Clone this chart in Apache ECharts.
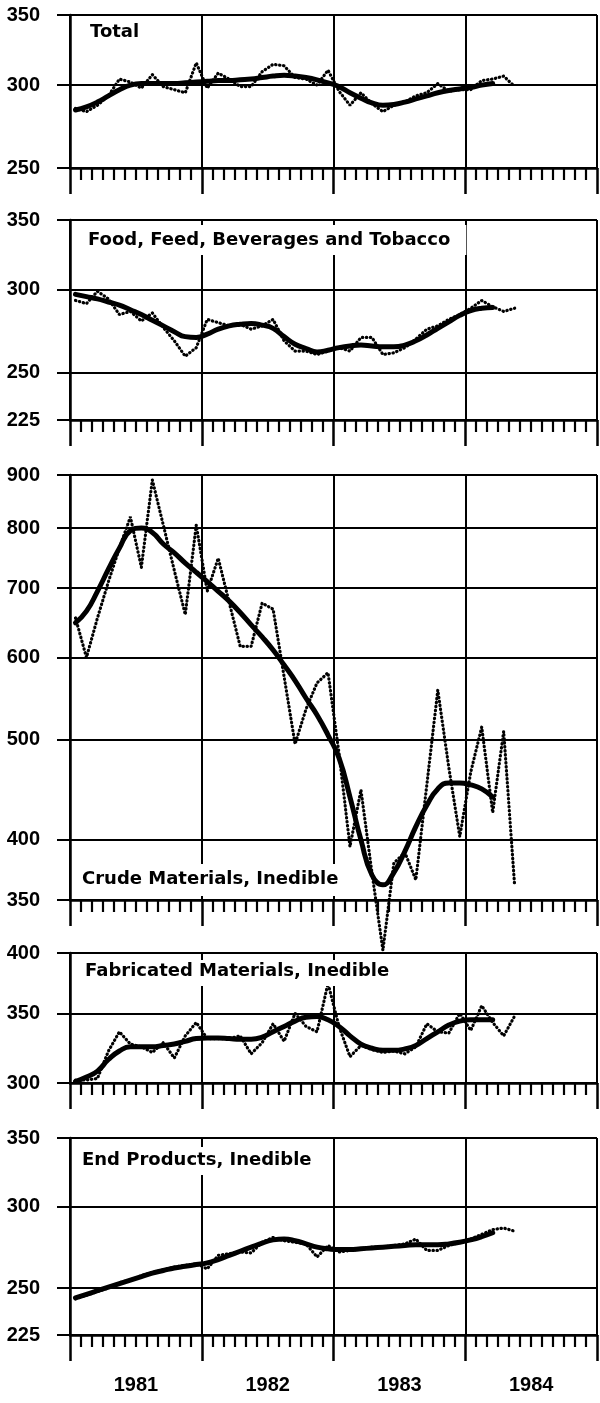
<!DOCTYPE html>
<html><head><meta charset="utf-8">
<script src="https://cdn.jsdelivr.net/npm/echarts@6/dist/echarts.min.js"></script>
<style>html,body{margin:0;padding:0;background:#fff}#c{width:600px;height:1403px}</style>
</head><body><div id="c"></div>
<script>
// ---- data (monthly, Jan 1981 onward) ----
const years = ['1981', '1982', '1983', '1984'];
const titles = ['Total', 'Food, Feed, Beverages and Tobacco', 'Crude Materials, Inedible',
  'Fabricated Materials, Inedible', 'End Products, Inedible'];

const totalTicks = [250, 300, 350];
const foodTicks = [225, 250, 300, 350];
const crudeTicks = [350, 400, 500, 600, 700, 800, 900];
const fabTicks = [300, 350, 400];
const endTicks = [225, 250, 300, 350];

const totalRaw = [285, 283, 287, 293, 304, 302, 298, 307, 299, 297, 295, 315,
  298, 308, 304, 299, 299, 309, 314, 313, 305, 304, 300, 310,
  296, 287, 295, 288, 283, 287, 289, 293, 295, 301, 296, 297,
  297, 303, 304, 306, 299];
const totalTrend = [284, 286, 289, 293, 297, 300, 301, 301, 301, 301, 301.5, 302,
  302.5, 303, 303, 303.5, 304, 305, 306, 306.5, 306, 305, 303.5, 301.5,
  299, 295, 291.5, 288.5, 287, 287.5, 289, 291, 293, 295, 296.5, 297.5,
  298.5, 300, 301];

const foodRaw = [293, 291, 299, 294, 284, 286, 280, 285, 276, 268, 259, 264,
  281, 279, 277, 278, 275, 277, 281, 268, 262, 262, 260, 262,
  264, 262, 270, 270, 260, 261, 264, 269, 275, 277, 281, 284,
  288, 293, 289, 286, 288];
const foodTrend = [297, 295.5, 294, 292, 290, 287, 284, 280.5, 277, 273.5, 270.5, 270,
  272, 275, 277, 278, 278.5, 277.5, 275.5, 270.5, 266, 263.5, 261.5, 262.5,
  264, 265, 265.5, 265, 264.5, 264.5, 265.5, 268, 271.5, 275.5, 279.5, 283.5,
  286.5, 288, 288.5];

const crudeRaw = [655, 600, 655, 710, 765, 820, 733, 890, 805, 728, 660, 805,
  695, 748, 678, 615, 615, 677, 668, 575, 495, 535, 567, 580,
  485, 394, 447, 372, 313, 380, 389, 366, 452, 558, 470, 403,
  465, 514, 425, 509, 361];
const crudeTrend = [648, 665, 695, 730, 765, 795, 800, 792, 772, 757, 740, 725,
  710, 695, 680, 663, 645, 628, 610, 590, 570, 548, 528, 505,
  480, 440, 400, 370, 362, 372, 390, 412, 432, 448, 454, 454,
  452, 448, 440];

const fabRaw = [302, 302, 303, 322, 336, 327, 325, 321, 328, 317, 333, 343,
  331, 331, 331, 333, 320, 328, 342, 329, 350, 340, 336, 374,
  340, 318, 326, 323, 321, 322, 320, 325, 342, 336, 335, 350,
  337, 356, 343, 333, 348];
const fabTrend = [301, 304, 308, 316, 322, 325, 325, 325, 326, 327, 329, 331,
  331.5, 331.5, 331, 330.5, 330.5, 332, 336, 340, 344, 347, 347.5, 345,
  340, 333, 327, 324, 322.5, 322.5, 323.5, 326, 331, 336, 341, 344,
  345, 345, 345];

const endRaw = [244, 246, 248, 250, 253, 254.5, 257, 259, 260.5, 262, 263, 264,
  261, 269, 270, 271, 270.5, 277, 280, 278, 277, 276, 268, 275,
  271, 272, 273, 274, 274, 275, 276, 279, 272, 272, 275, 277,
  279, 282, 285, 286, 284];
const endTrend = [244.5, 246.5, 248.5, 250.5, 252.5, 254.5, 256.5, 258.5, 260, 261.5, 262.5, 263.5,
  264.5, 266.5, 269, 271.5, 274, 276.5, 278.5, 279, 278, 276, 274, 273,
  272.5, 272.5, 273, 273.5, 274, 274.5, 275, 275.5, 275.5, 275.5, 276, 277,
  278.5, 280.5, 283];

// ---- build chart ----
const panels = [
  { ticks: totalTicks, raw: totalRaw, trend: totalTrend },
  { ticks: foodTicks, raw: foodRaw, trend: foodTrend },
  { ticks: crudeTicks, raw: crudeRaw, trend: crudeTrend },
  { ticks: fabTicks, raw: fabRaw, trend: fabTrend },
  { ticks: endTicks, raw: endRaw, trend: endTrend }
];
const layout = [
  { top: 15, height: 153 },
  { top: 220, height: 200 },
  { top: 475, height: 425 },
  { top: 953, height: 130 },
  { top: 1138, height: 197 }
];
const titlePos = [
  { left: 86, top: 21, padding: [2, 4, 2, 4] },
  { left: 84, top: 225, padding: [6, 16, 6, 4] },
  { left: 78, top: 864, padding: [6, 4, 8, 4] },
  { left: 81, top: 960, padding: [2, 4, 6, 4] },
  { left: 78, top: 1147, padding: [4, 4, 6, 4] }
];
const C = '#000';
const numFont = { fontFamily: 'Liberation Sans', fontWeight: 'bold', fontSize: 20, color: C };

const toPts = arr => arr.map((v, m) => [m + 0.5, Math.log(v)]);

const option = {
  animation: false,
  backgroundColor: '#fff',
  title: titles.map((t, i) => ({
    text: t, left: titlePos[i].left, top: titlePos[i].top, padding: titlePos[i].padding,
    backgroundColor: '#fff',
    textStyle: { fontFamily: 'DejaVu Sans', fontWeight: 'bold', fontSize: 18, color: C, lineHeight: 18 }
  })),
  grid: layout.map(l => ({ left: 70, right: 3, top: l.top, height: l.height, containLabel: false })),
  xAxis: panels.map((p, i) => ({
    type: 'value', gridIndex: i, min: 0, max: 48, interval: 12,
    axisLine: { show: true, onZero: false, lineStyle: { color: C, width: 2.5 } },
    axisTick: { show: true, length: 26, lineStyle: { color: C, width: 2.5 } },
    minorTick: { show: true, splitNumber: 12, length: 12, lineStyle: { color: C, width: 2.2 } },
    splitLine: { show: true, lineStyle: { color: C, width: 2 } },
    axisLabel: i === 4 ? Object.assign({
      show: true, customValues: [6, 18, 30, 42], margin: 40,
      formatter: v => years[Math.round((v - 6) / 12)]
    }, numFont) : { show: false }
  })),
  yAxis: panels.map((p, i) => ({
    type: 'value', gridIndex: i,
    min: Math.log(p.ticks[0]), max: Math.log(p.ticks[p.ticks.length - 1]),
    axisLine: { show: true, lineStyle: { color: C, width: 2.5 } },
    axisTick: { show: true, length: 13, customValues: p.ticks.map(v => Math.log(v)), lineStyle: { color: C, width: 2 } },
    axisLabel: Object.assign({
      customValues: p.ticks.map(v => Math.log(v)), margin: 30,
      formatter: v => String(Math.round(Math.exp(v)))
    }, numFont),
    splitLine: { show: true, lineStyle: { color: C, width: 2 } }
  })),
  series: []
};
panels.forEach((p, i) => {
  option.series.push({
    type: 'line', xAxisIndex: i, yAxisIndex: i, data: toPts(p.raw),
    symbol: 'none', silent: true, clip: i !== 2, z: 3,
    lineStyle: { color: C, width: 3.2, type: [0.4, 3.6], cap: 'round' }
  });
  option.series.push({
    type: 'line', xAxisIndex: i, yAxisIndex: i, data: toPts(p.trend),
    symbol: 'none', silent: true, smooth: 0.5, z: 4,
    lineStyle: { color: C, width: 5, cap: 'round' }
  });
});
const chart = echarts.init(document.getElementById('c'), null, { renderer: 'canvas' });
chart.setOption(option);
</script>
</body></html>
